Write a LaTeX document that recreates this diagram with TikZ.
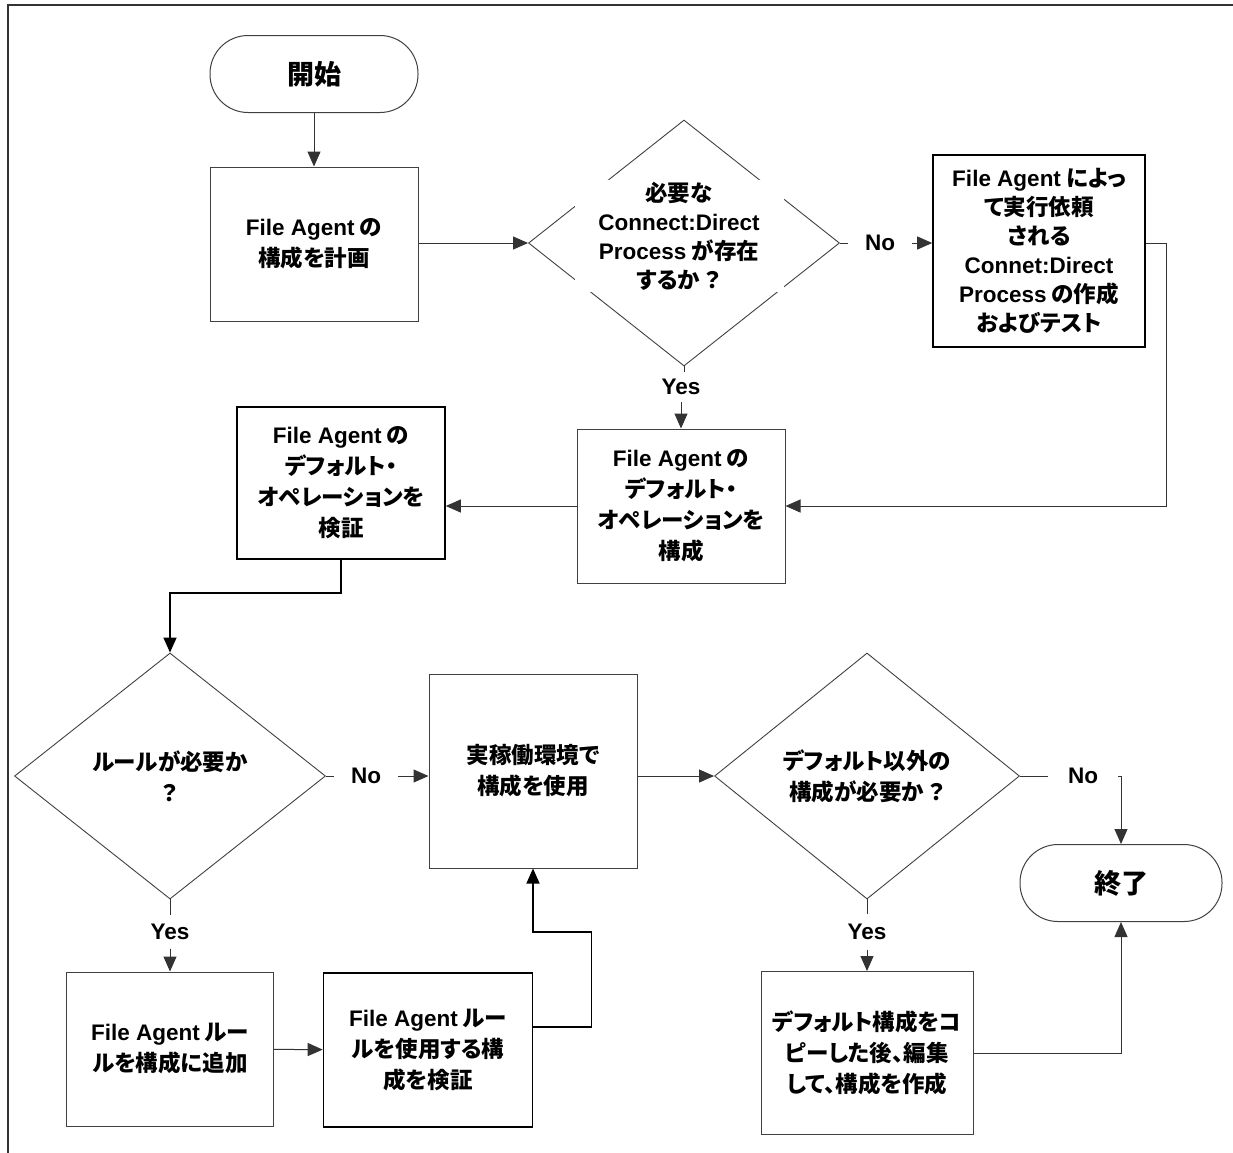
\documentclass[tikz,border=0pt]{standalone}
\usepackage{fontspec}
\setmainfont{Noto Sans CJK JP}[RawFeature=+palt]
\newfontfamily\enfont{Liberation Sans}
\newcommand\en[1]{{\enfont\bfseries #1}}
\usetikzlibrary{arrows.meta,positioning,shapes.geometric}

\begin{document}
\begin{tikzpicture}[x=1pt, y=-1pt,
  font=\fontsize{22.5}{31}\selectfont\bfseries,
  box/.style={draw=black!75, line width=1pt, minimum width=208pt, minimum height=154pt, align=center, inner sep=2pt},
  boxb/.style={box, draw=black, line width=1.6pt},
  term/.style={draw=black!75, line width=1pt, rounded corners=38pt, minimum width=208pt, minimum height=77pt, font=\fontsize{27}{30}\selectfont\bfseries},
  decision/.style={shape=diamond, draw=black!75, line width=0.9pt, minimum width=311pt, minimum height=246pt, inner sep=0pt, align=center},
  lbl/.style={inner sep=0pt, minimum height=30pt},
  conn/.style={draw=black!80, line width=1pt},
  thickconn/.style={draw=black, line width=1.6pt},
  >={Triangle[length=15pt,width=13pt]}]
\useasboundingbox (0,0) rectangle (1233,1152);
\draw[line width=2pt, black!80] (8,1160) |- (1240,5);

% upper row
\node[term] (start) at (314,74) {開始};
\node[box] (plan) at (314,244) {\en{File Agent} の\\構成を計画};
\node[decision] (d1) at (684,243) {};
\node[fill=white, minimum width=209pt, minimum height=112pt, inner sep=0pt, align=center, font=\fontsize{22.5}{29}\selectfont\bfseries] (d1txt) at (679,236) {必要な\\\en{Connect:Direct}\\\en{Process} が存在\\するか ？};
\node[boxb, minimum width=212pt, minimum height=192pt, font=\fontsize{22.5}{29}\selectfont\bfseries] (create) at (1039,251) {\en{File Agent} によっ\\て実行依頼\\される\\\en{Connet:Direct}\\\en{Process} の作成\\およびテスト};
\node[box] (setdef) at (681,506) {\en{File Agent} の\\デフォルト・\\オペレーションを\\構成};
\node[boxb, minimum height=152pt] (verdef) at (341,483) {\en{File Agent} の\\デフォルト・\\オペレーションを\\検証};

% lower rows
\node[decision] (d2) at (170,776) {ルールが必要か\\？};
\node[box, minimum height=194pt] (use) at (533,771) {実稼働環境で\\構成を使用};
\node[decision, minimum width=305pt] (d3) at (867,776) {デフォルト以外の\\構成が必要か ？};
\node[term, minimum width=202pt] (end) at (1121,883) {終了};
\node[box, minimum width=212pt, minimum height=163pt] (copy) at (867,1053) {デフォルト構成をコ\\ピーした後、編集\\して、構成を作成};
\node[box, minimum width=207pt] (addrule) at (170,1049) {\en{File Agent} ルー\\ルを構成に追加};
\node[boxb, minimum width=209pt] (verrule) at (428,1050) {\en{File Agent} ルー\\ルを使用する構\\成を検証};

% labels
\node[lbl, minimum width=64pt] (no1) at (880,243) {\en{No}};
\node[lbl] (yes1) at (681,387) {\en{Yes}};
\node[lbl, minimum width=63pt] (no2) at (366,776) {\en{No}};
\node[lbl, minimum height=33pt] (yes2) at (170,932) {\en{Yes}};
\node[lbl, minimum width=70pt] (no3) at (1083,776) {\en{No}};
\node[lbl, minimum height=35pt] (yes3) at (867,932) {\en{Yes}};

% connectors
\draw[->, conn] (start) -- (plan);
\draw[->, conn] (plan.east |- d1) -- (d1);
\draw[conn] (d1) -- (no1);
\draw[->, conn] (no1) -- (no1 -| create.west);
\draw[->, conn] (no1 -| create.east) -- ++(21,0) |- (setdef.east);
\draw[conn] (d1.south) -- (d1.south |- yes1.north);
\draw[->, conn] (yes1) -- (setdef);
\draw[->, conn] (setdef.west) -- (setdef.west -| verdef.east);
\draw[->, thickconn] (verdef.south) -- ++(0,33) -| (d2.north);
\draw[conn] (d2) -- (no2);
\draw[->, conn] (no2) -- (no2 -| use.west);
\draw[->, conn] (use.east |- d3) -- (d3);
\draw[conn] (d3) -- (no3);
\draw[->, conn] (no3) -| (end);
\draw[conn] (d2) -- (yes2);
\draw[->, conn] (yes2) -- (addrule);
\draw[conn] (d3) -- (yes3);
\draw[->, conn] (yes3) -- (copy);
\draw[->, conn] (copy) -| (end);
\draw[->, conn] (addrule) -- (verrule);
\draw[->, thickconn] ([yshift=23pt]verrule.east) -| ++(58,-95) -| (use.south);
\end{tikzpicture}
\end{document}
